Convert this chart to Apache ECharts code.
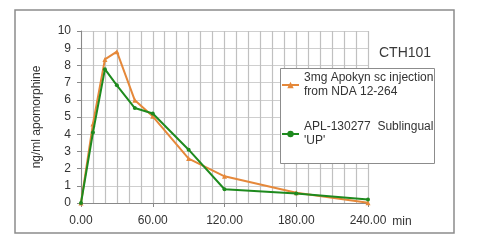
<!DOCTYPE html>
<html>
<head>
<meta charset="utf-8">
<script src="https://cdn.jsdelivr.net/npm/echarts@6/dist/echarts.min.js"></script>
<style>
html,body{margin:0;padding:0;background:#fff;}
#c{width:480px;height:241px;}
</style>
</head>
<body>
<div id="c"></div>
<script>
var times = [0, 10, 20, 30, 45, 60, 90, 120, 180, 240];
var apokyn = [0, 4.6, 8.35, 8.8, 5.97, 5.04, 2.58, 1.55, 0.6, 0.02];
var apl = [0, 4.1, 7.78, 6.84, 5.52, 5.2, 3.1, 0.8, 0.55, 0.2];
var seriesNames = ['3mg Apokyn sc injection\nfrom NDA 12-264', "APL-130277  Sublingual\n'UP'"];
var titleText = 'CTH101';
var yAxisTitle = 'ng/ml apomorphine';
var xUnit = 'min';

function pairs(xs, ys) { return xs.map(function (x, i) { return [x, ys[i]]; }); }

var chart = echarts.init(document.getElementById('c'), null, {renderer: 'canvas'});
var font = 'Liberation Sans, Arial, sans-serif';
chart.setOption({
  animation: false,
  backgroundColor: '#ffffff',
  textStyle: {fontFamily: font},
  title: {
    text: titleText, left: 374, top: 41,
    textStyle: {fontSize: 14, fontWeight: 'normal', color: '#3a3a3a', fontFamily: font}
  },
  graphic: [
    {type: 'rect', shape: {x: 15, y: 10, width: 439, height: 223},
     style: {fill: 'none', stroke: '#8c8c8c', lineWidth: 1.5}, z: -10},
    {type: 'rect', shape: {x: 280.5, y: 68.5, width: 154, height: 95},
     style: {fill: '#ffffff', stroke: '#8c8c8c', lineWidth: 1}, z: 5}
  ],
  legend: {
    orient: 'vertical', left: 281, top: 64, padding: 0,
    itemWidth: 17, itemHeight: 8, itemGap: 7, z: 10,
    textStyle: {fontSize: 12, color: '#333', lineHeight: 14, padding: [14, 0, 0, 0], fontFamily: font},
    data: seriesNames
  },
  grid: {left: 81, right: 112, top: 31, bottom: 38, containLabel: false},
  xAxis: [{
    type: 'value', min: 0, max: 240, interval: 10,
    name: xUnit, nameLocation: 'end', nameGap: 22,
    nameTextStyle: {fontSize: 12, color: '#333', verticalAlign: 'top', padding: [13, 0, 0, 0]},
    axisLine: {lineStyle: {color: '#888', width: 1}},
    axisTick: {show: false},
    axisLabel: {fontSize: 12, color: '#333', margin: 12, showMinLabel: true, showMaxLabel: true,
      formatter: function (v) { return v % 60 === 0 ? v.toFixed(2) : ''; }},
    splitLine: {show: true, lineStyle: {color: '#c0c0c0', width: 1.2, type: 'solid'}}
  }, {
    type: 'value', min: 0, max: 240, interval: 60, position: 'bottom',
    axisLine: {show: false},
    axisTick: {show: true, length: 4, lineStyle: {color: '#888'}},
    axisLabel: {show: false},
    splitLine: {show: false}
  }],
  yAxis: {
    type: 'value', min: 0, max: 10, interval: 1,
    name: yAxisTitle, nameLocation: 'middle', nameGap: 38,
    nameTextStyle: {fontSize: 12, color: '#333'},
    axisLine: {show: true, lineStyle: {color: '#888', width: 1}},
    axisTick: {show: true, length: 4, lineStyle: {color: '#888'}},
    axisLabel: {fontSize: 12, color: '#333', margin: 10},
    splitLine: {show: true, lineStyle: {color: '#cfcfcf', width: 1}}
  },
  series: [
    {name: seriesNames[0], type: 'line', xAxisIndex: 0, data: pairs(times, apokyn),
     symbol: 'triangle', symbolSize: 5, showAllSymbol: true,
     itemStyle: {color: '#E5883A'}, lineStyle: {color: '#E5883A', width: 2}, z: 3},
    {name: seriesNames[1], type: 'line', xAxisIndex: 0, data: pairs(times, apl),
     symbol: 'circle', symbolSize: 4, showAllSymbol: true,
     itemStyle: {color: '#1E8A1E'}, lineStyle: {color: '#1E8A1E', width: 2}, z: 4}
  ]
});
</script>
</body>
</html>
